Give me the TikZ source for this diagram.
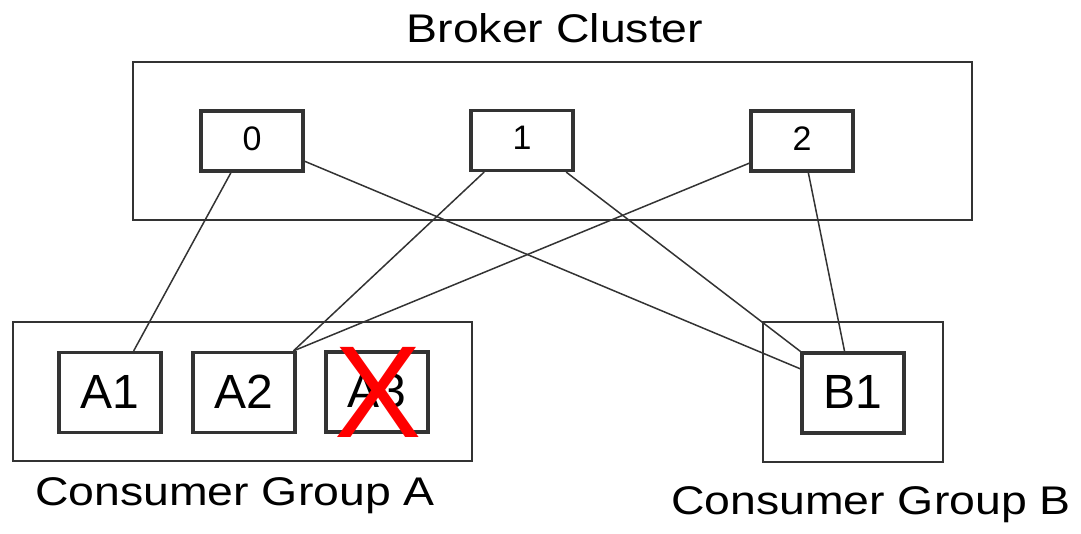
\documentclass[tikz,border=0pt]{standalone}
\usepackage{fontspec}
\usepackage{graphicx}
\setmainfont{Liberation Sans}
\usetikzlibrary{calc}
\definecolor{ink}{HTML}{333333}
\definecolor{xred}{HTML}{FF0000}
\newcommand{\wide}[1]{\scalebox{1.16}[1]{#1}}
\tikzset{
  group/.style={draw=ink, line width=1.8pt, fill=none, inner sep=0pt},
  broker/.style={draw=ink, line width=3.2pt, fill=white, minimum width=102pt, minimum height=60pt,
    inner sep=0pt, font=\fontsize{34}{40}\selectfont, text height=18pt, text depth=0pt},
  member/.style={draw=ink, line width=3.2pt, fill=white, minimum width=102pt, minimum height=80pt,
    inner sep=0pt, font=\fontsize{48}{56}\selectfont, text height=31pt, text depth=0pt},
  caption/.style={anchor=base, inner sep=0pt, font=\fontsize{40}{48}\selectfont},
  link/.style={draw=ink, line width=1.5pt},
}
\begin{document}
\begin{tikzpicture}[x=1pt, y=-1pt]
\useasboundingbox (0,0) rectangle (1081,533);

% enclosing frames
\node[group, minimum width=839pt, minimum height=158pt] (cluster) at (552.5,141) {};
\node[group, minimum width=459pt, minimum height=139pt] (groupA) at (242.5,391.5) {};
\node[group, minimum width=180pt, minimum height=140pt] (groupB) at (853,392) {};

% captions
\node[caption] (tcluster) at (555,42) {\wide{Broker Cluster}};
\node[caption] (tgroupA) at (235,505) {\wide{Consumer Group A}};
\node[caption] (tgroupB) at (871,514) {\wide{Consumer Group B}};

% brokers
\node[broker] (b0) at (252,141) {0};
\node[broker] (b1) at (522,140.5) {1};
\node[broker] (b2) at (802,141) {2};

% consumers
\node[member] (a1) at (110,392.5) {A1};
\node[member] (a2) at (244,392.5) {A2};
\node[member] (a3) at (377,392) {A3};
\node[member] (c1) at (853,393) {B1};

% partition assignments
\draw[link] ($(b0.south west)!0.30!(b0.south east)$) -- ($(a1.north west)!0.725!(a1.north east)$);
\draw[link] ($(b0.north east)!0.82!(b0.south east)$) -- ($(c1.north west)!0.21!(c1.south west)$);
\draw[link] ($(b1.south west)!0.14!(b1.south east)$) -- ($(a2.north west)!0.97!(a2.north east)$);
\draw[link] ($(b1.south west)!0.92!(b1.south east)$) -- (c1.north west);
\draw[link] ($(b2.north west)!0.85!(b2.south west)$) -- ($(a2.north west)!0.97!(a2.north east)$);
\draw[link] ($(b2.south west)!0.56!(b2.south east)$) -- ($(c1.north west)!0.42!(c1.north east)$);

% failed consumer: red cross over A3
\node[anchor=base, inner sep=0pt, text=xred, font=\fontsize{131}{140}\selectfont] (fail) at (378,437) {X};
\end{tikzpicture}
\end{document}
